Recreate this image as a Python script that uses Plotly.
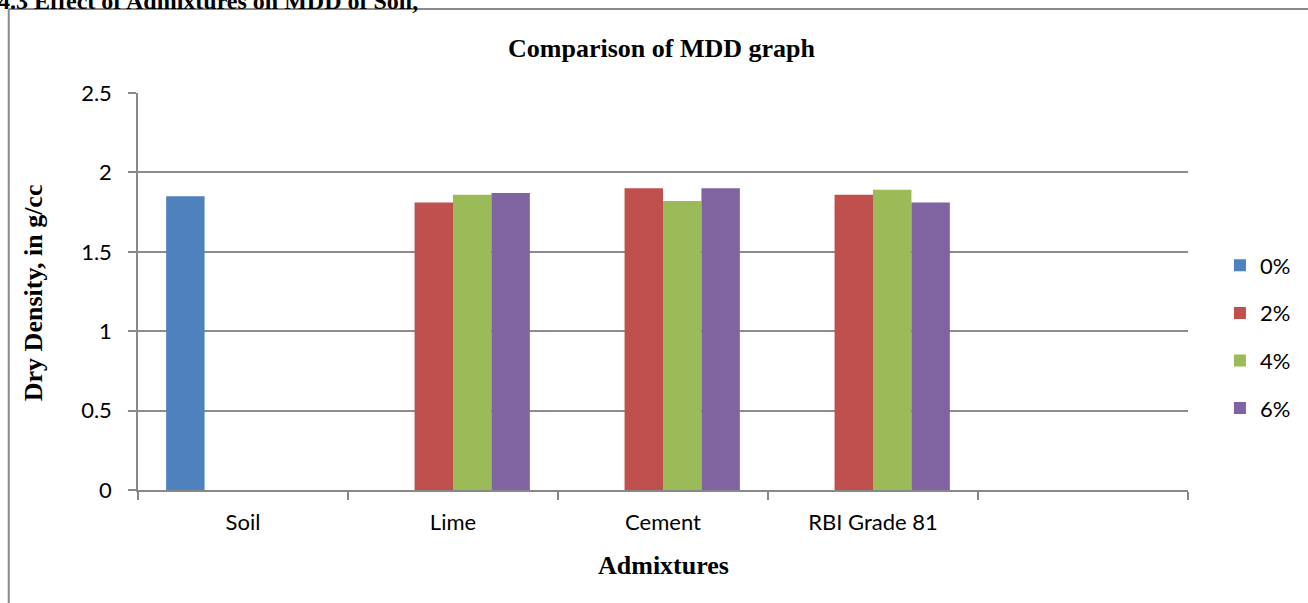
import plotly.graph_objects as go

categories = ["Soil", "Lime", "Cement", "RBI Grade 81", " "]
series_names = ["0%", "2%", "4%", "6%"]
values_0 = [1.85, None, None, None, None]
values_2 = [None, 1.81, 1.90, 1.86, None]
values_4 = [None, 1.86, 1.82, 1.89, None]
values_6 = [None, 1.87, 1.90, 1.81, None]
colors = ["#4F81BD", "#C0504D", "#9BBB59", "#8064A2"]

W, H = 1308, 603
L, R, T, B = 138, 1190, 93, 490
pw, ph = R - L, B - T

def px(x):
    return (x - L) / pw

def py(y):
    return (B - y) / ph

fig = go.Figure()
for name, vals, col in zip(series_names, [values_0, values_2, values_4, values_6], colors):
    fig.add_trace(go.Bar(
        x=categories, y=vals, name=name, legendgroup=name,
        marker=dict(color=col, line=dict(width=0)),
    ))

tick_font = dict(family="Lato, Calibri, sans-serif", size=22, color="#000")
title_font = dict(family="Liberation Serif, Times New Roman, serif", size=26, color="#000")

fig.update_layout(
    width=W, height=H,
    margin=dict(l=L, r=W - R, t=T, b=H - B),
    paper_bgcolor="white", plot_bgcolor="white",
    barmode="group", bargap=0.268, bargroupgap=0,
    showlegend=True,
    legend=dict(x=px(1222), xanchor="left", y=py(337), yanchor="middle",
                font=dict(family="Lato, Calibri, sans-serif", size=22, color="#000"),
                tracegroupgap=16, bgcolor="rgba(0,0,0,0)"),
    xaxis=dict(
        type="category", categoryorder="array", categoryarray=categories,
        range=[-0.5, 4.5], showgrid=False,
        showline=True, linecolor="#888", linewidth=1.5,
        ticks="outside", tickson="boundaries", ticklen=8, tickcolor="#888", tickwidth=1.5,
        tickfont=tick_font, ticklabelstandoff=12, fixedrange=True,
    ),
    yaxis=dict(
        range=[0, 2.5], tickvals=[0, 0.5, 1, 1.5, 2, 2.5],
        ticktext=["0", "0.5", "1", "1.5", "2", "2.5"],
        showgrid=True, gridcolor="#8c8c8c", gridwidth=1.5,
        showline=True, linecolor="#888", linewidth=1.5,
        ticks="outside", ticklen=8, tickcolor="#888", tickwidth=1.5,
        tickfont=tick_font, ticklabelstandoff=12, zeroline=False, fixedrange=True,
    ),
    annotations=[
        dict(text="<b>Comparison of MDD graph</b>", x=px(662), y=py(48), xref="paper", yref="paper",
             xanchor="center", yanchor="middle", showarrow=False, font=title_font),
        dict(text="<b>Dry Density, in g/cc</b>", x=px(33), y=py(293), xref="paper", yref="paper",
             xanchor="center", yanchor="middle", textangle=-90, showarrow=False, font=title_font),
        dict(text="<b>Admixtures</b>", x=px(664), y=py(565), xref="paper", yref="paper",
             xanchor="center", yanchor="middle", showarrow=False, font=title_font),
        dict(text="<b>4.3 Effect of Admixtures on MDD of Soil,</b>", x=px(-4), y=py(16), xref="paper", yref="paper",
             xanchor="left", yanchor="bottom", showarrow=False, font=dict(family=title_font["family"], size=24, color="#000")),
    ],
    shapes=[
        dict(type="line", xref="paper", yref="paper", x0=px(8.5), x1=px(1320), y0=py(9), y1=py(9),
             line=dict(color="#8a8a8a", width=2)),
        dict(type="line", xref="paper", yref="paper", x0=px(8.5), x1=px(8.5), y0=py(9), y1=py(620),
             line=dict(color="#8a8a8a", width=2)),
    ],
)

fig.write_html(
    "out.html",
    config={"displayModeBar": False},
    post_script="document.body.style.margin='0';document.body.style.overflow='hidden';",
)
